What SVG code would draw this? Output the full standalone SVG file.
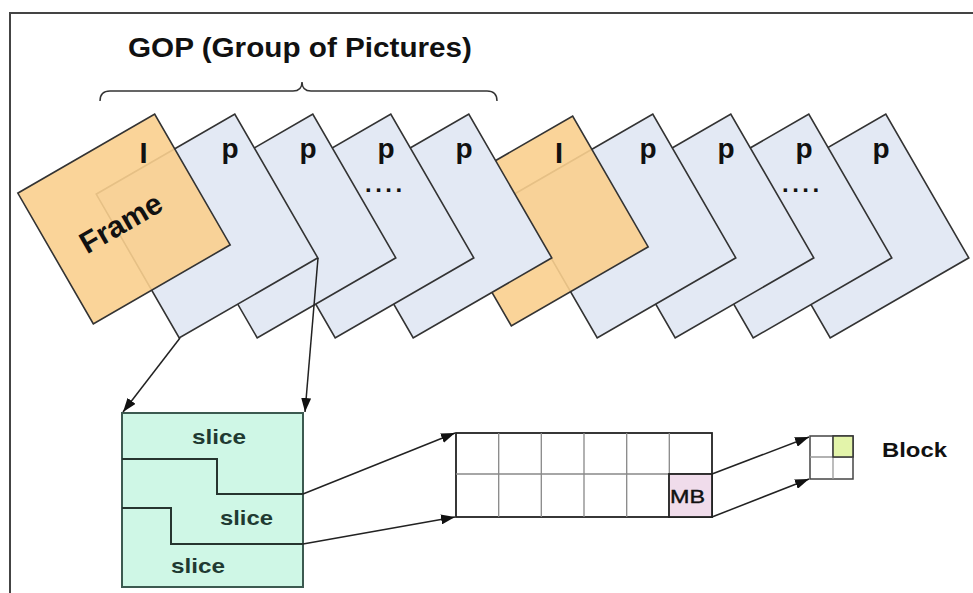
<svg xmlns="http://www.w3.org/2000/svg" width="973" height="593" viewBox="0 0 973 593">
<defs>
<style>
.bg{fill:#ffffff}
.border{fill:none;stroke:#444;stroke-width:2}
.pf{fill:#E3E9F4;stroke:#333;stroke-width:1.6}
.if{fill:#F9CF8E;fill-opacity:0.9;stroke:#333;stroke-width:1.6}
.lbl{font-family:"Liberation Sans",Arial,sans-serif;font-weight:bold;fill:#111}
.conn{fill:none;stroke:#222;stroke-width:1.5}
.slicebox{fill:#CFF7E6;stroke:#3c5a50;stroke-width:2}
.step{fill:none;stroke:#26352f;stroke-width:2}
.slicetxt{font-family:"Liberation Sans",Arial,sans-serif;font-weight:bold;font-size:21px;fill:#1f3a32}
.grid{fill:#ffffff;stroke:#222;stroke-width:1.8}
.gline{stroke:#888;stroke-width:1.3}
.mb{fill:#F0DCEB;stroke:#222;stroke-width:1.8}
.blk{fill:#ffffff;stroke:#444;stroke-width:1.5}
.bline{stroke:#999;stroke-width:1.3}
.bgreen{fill:#E3F4AA;stroke:#333;stroke-width:1.5}
</style>
<marker id="ah" markerUnits="userSpaceOnUse" markerWidth="14" markerHeight="10" refX="14" refY="5" orient="auto">
<path d="M0,0 L14,5 L0,10 z" fill="#111"/>
</marker>
</defs>
<rect class="bg" x="0" y="0" width="973" height="593"/>
<path class="border" d="M10,593 L10,13 L973,13"/>

<g id="title">
<text class="lbl" x="128" y="57" font-size="27" textLength="344" lengthAdjust="spacingAndGlyphs">GOP (Group of Pictures)</text>
<path d="M100,101 Q100,91 110,91 L293,91 Q302,91 302,82 Q302,91 311,91 L487,91 Q497,91 497,101" fill="none" stroke="#333" stroke-width="1.5"/>
</g>

<g id="frame-p8">
<rect class="pf" x="-80" y="-83" width="160" height="166" transform="translate(858,226) rotate(-30)"/>
<text class="lbl" x="881" y="158" font-size="28" text-anchor="middle">p</text>
</g>
<g id="frame-p7">
<rect class="pf" x="-80" y="-83" width="160" height="166" transform="translate(781,226) rotate(-30)"/>
<text class="lbl" x="804" y="158" font-size="28" text-anchor="middle">p</text>
<text class="lbl" x="782" y="192" font-size="24" letter-spacing="3.5">....</text>
</g>
<g id="frame-p6">
<rect class="pf" x="-80" y="-83" width="160" height="166" transform="translate(703,226) rotate(-30)"/>
<text class="lbl" x="726" y="158" font-size="28" text-anchor="middle">p</text>
</g>
<g id="frame-p5">
<rect class="pf" x="-80" y="-83" width="160" height="166" transform="translate(625,226) rotate(-30)"/>
<text class="lbl" x="648" y="158" font-size="28" text-anchor="middle">p</text>
</g>
<g id="frame-i2">
<rect class="if" x="-79" y="-75.5" width="158" height="151" transform="translate(542,221) rotate(-30)"/>
<text class="lbl" x="559" y="163" font-size="29" text-anchor="middle">I</text>
</g>
<g id="frame-p4">
<rect class="pf" x="-80" y="-83" width="160" height="166" transform="translate(441,226) rotate(-30)"/>
<text class="lbl" x="464" y="158" font-size="28" text-anchor="middle">p</text>
</g>
<g id="frame-p3">
<rect class="pf" x="-80" y="-83" width="160" height="166" transform="translate(363,226) rotate(-30)"/>
<text class="lbl" x="386" y="158" font-size="28" text-anchor="middle">p</text>
<text class="lbl" x="365" y="192" font-size="24" letter-spacing="3.5">....</text>
</g>
<g id="frame-p2">
<rect class="pf" x="-80" y="-83" width="160" height="166" transform="translate(285,226) rotate(-30)"/>
<text class="lbl" x="308" y="158" font-size="28" text-anchor="middle">p</text>
</g>
<g id="frame-p1">
<rect class="pf" x="-80" y="-83" width="160" height="166" transform="translate(207,226) rotate(-30)"/>
<text class="lbl" x="230" y="158" font-size="28" text-anchor="middle">p</text>
</g>
<g id="frame-i1">
<rect class="if" x="-79" y="-75.5" width="158" height="151" transform="translate(124,219) rotate(-30)"/>
<text class="lbl" x="143.5" y="163" font-size="29" text-anchor="middle">I</text>
<text class="lbl" font-size="30" text-anchor="middle" transform="translate(126,232) rotate(-30)">Frame</text>
</g>

<g id="slices">
<rect class="slicebox" x="122" y="413" width="181" height="174"/>
<path class="step" d="M122,459 L217,459 L217,494 L303,494"/>
<path class="step" d="M122,508 L171,508 L171,544 L303,544"/>
<text class="slicetxt" x="192" y="444" textLength="54" lengthAdjust="spacingAndGlyphs">slice</text>
<text class="slicetxt" x="220" y="525" textLength="53" lengthAdjust="spacingAndGlyphs">slice</text>
<text class="slicetxt" x="171" y="573" textLength="54" lengthAdjust="spacingAndGlyphs">slice</text>
</g>

<g id="macroblocks">
<rect class="grid" x="456" y="433" width="256" height="84"/>
<line class="gline" x1="456" y1="474" x2="712" y2="474"/>
<line class="gline" x1="498.7" y1="433" x2="498.7" y2="517"/>
<line class="gline" x1="541.3" y1="433" x2="541.3" y2="517"/>
<line class="gline" x1="584" y1="433" x2="584" y2="517"/>
<line class="gline" x1="626.7" y1="433" x2="626.7" y2="517"/>
<line class="gline" x1="669.3" y1="433" x2="669.3" y2="517"/>
<rect class="mb" x="669" y="474" width="43" height="43"/>
<text x="670" y="503" font-family="'Liberation Sans',Arial,sans-serif" font-size="18" fill="#111" stroke="#111" stroke-width="0.4" textLength="35" lengthAdjust="spacingAndGlyphs">MB</text>
</g>

<g id="block">
<rect class="blk" x="810" y="436" width="43" height="43"/>
<line class="bline" x1="810" y1="457" x2="853" y2="457"/>
<line class="bline" x1="833" y1="436" x2="833" y2="479"/>
<rect class="bgreen" x="833" y="436" width="20" height="21"/>
<text class="lbl" x="882" y="457" font-size="21" textLength="65" lengthAdjust="spacingAndGlyphs">Block</text>
</g>

<g id="connectors">
<line class="conn" x1="180" y1="338" x2="123" y2="412" marker-end="url(#ah)"/>
<line class="conn" x1="318" y1="258" x2="305" y2="412" marker-end="url(#ah)"/>
<line class="conn" x1="303" y1="494" x2="455" y2="433" marker-end="url(#ah)"/>
<line class="conn" x1="303" y1="544" x2="455" y2="517" marker-end="url(#ah)"/>
<line class="conn" x1="712" y1="474" x2="809" y2="437" marker-end="url(#ah)"/>
<line class="conn" x1="712" y1="517" x2="809" y2="479" marker-end="url(#ah)"/>
</g>
</svg>
